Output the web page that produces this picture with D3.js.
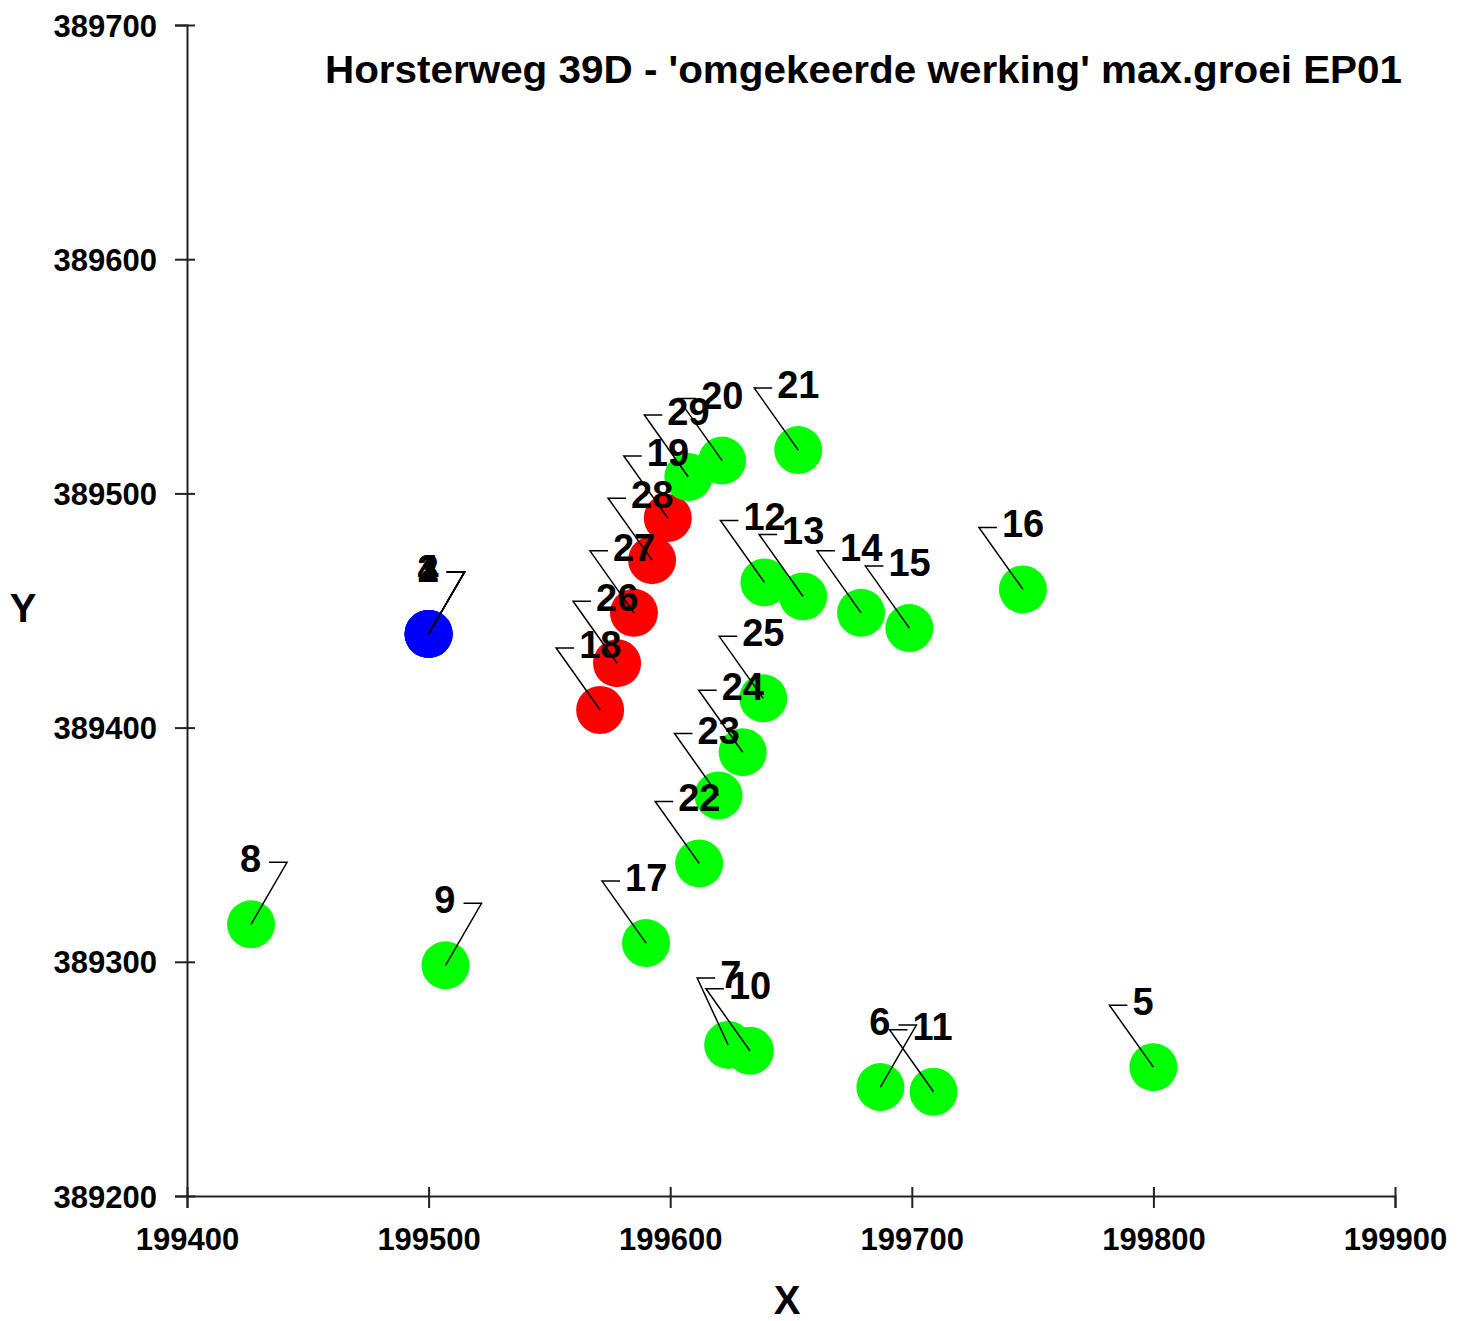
<!DOCTYPE html>
<html>
<head>
<meta charset="utf-8">
<script src="https://cdn.jsdelivr.net/npm/d3@7"></script>
<style>
  html, body { margin: 0; padding: 0; background: #fff; }
  svg { display: block; }
  text { font-family: "Liberation Sans", Arial, sans-serif; font-weight: bold; fill: #000; }
</style>
</head>
<body>
<svg id="chart" width="1469" height="1321"></svg>
<script>
// ---------------- data ----------------
const chartTitle = "Horsterweg 39D - 'omgekeerde werking' max.groei EP01";
const xAxisTitle = "X";
const yAxisTitle = "Y";

const pointIds = [1, 2, 3, 4, 5, 6, 7, 8, 9, 10, 11, 12, 13, 14, 15, 16, 17, 18, 19, 20, 21, 22, 23, 24, 25, 26, 27, 28, 29];
const xValues = [199500, 199500, 199500, 199500, 199800, 199687, 199624, 199426.5, 199507, 199633, 199709,
                 199639, 199655, 199679, 199699, 199746, 199590, 199571, 199599, 199621.5, 199653,
                 199612, 199620, 199630, 199638.5, 199578, 199585, 199592.5, 199607.5];
const yValues = [389440, 389440, 389440, 389440, 389255, 389246.5, 389264.5, 389316, 389298.5, 389262, 389244.5,
                 389462, 389456, 389449, 389442.5, 389459, 389308, 389407.5, 389489.5, 389514, 389518.5,
                 389342, 389371, 389389.5, 389412.5, 389427.5, 389449, 389471.5, 389507];
const pointGroups = ["blue", "blue", "blue", "blue", "green", "green", "green", "green", "green", "green", "green",
                     "green", "green", "green", "green", "green", "green", "red", "red", "green", "green",
                     "green", "green", "green", "green", "red", "red", "red", "green"];

const xTickValues = [199400, 199500, 199600, 199700, 199800, 199900];
const yTickValues = [389200, 389300, 389400, 389500, 389600, 389700];
const xDomain = [199400, 199900];
const yDomain = [389200, 389700];

// ---------------- layout / style ----------------
const groupColors = { blue: "#0000ff", green: "#00ff00", red: "#ff0000" };
const rightLabelIds = new Set([1, 2, 3, 4, 6, 8, 9]);   // labels placed up-right of their point
const labelOffsetOverrides = { 7: [-31, -67] };          // hand-placed labels (pixels)
const defaultLeftOffset = [-44, -62];
const defaultRightOffset = [36, -62];

const svg = d3.select("#chart");
const plot = { left: 187, right: 1395, top: 25, bottom: 1196 };

const x = d3.scaleLinear().domain(xDomain).range([plot.left, plot.right]);
const y = d3.scaleLinear().domain(yDomain).range([plot.bottom, plot.top]);
const color = d3.scaleOrdinal().domain(Object.keys(groupColors)).range(Object.values(groupColors));

// ---------------- axes ----------------
const xAxis = d3.axisBottom(x).tickValues(xTickValues).tickFormat(d3.format("d")).tickSizeOuter(0).tickSize(12).tickPadding(20);
const yAxis = d3.axisLeft(y).tickValues(yTickValues).tickFormat(d3.format("d")).tickSizeOuter(0).tickSize(12).tickPadding(18);

const gx = svg.append("g").attr("transform", `translate(0,${plot.bottom})`).call(xAxis);
gx.selectAll(".tick line").attr("y1", -9).attr("y2", 12);
const gy = svg.append("g").attr("transform", `translate(${plot.left},0)`).call(yAxis);
gy.selectAll(".tick line").attr("x1", 8).attr("x2", -12);

[gx, gy].forEach(g => {
  g.select(".domain").attr("stroke", "#222").attr("stroke-width", 2);
  g.selectAll(".tick line").attr("stroke", "#222").attr("stroke-width", 2);
  g.selectAll(".tick text")
    .attr("fill", "#111")
    .style("font-family", "'Liberation Sans', Arial, sans-serif")
    .style("font-weight", "bold")
    .style("font-size", "31px");
});
gx.selectAll(".tick text").attr("dy", "0.71em");
gy.selectAll(".tick text").attr("dy", "0.36em");

// axis titles
svg.append("text").attr("x", 787).attr("y", 1314).attr("text-anchor", "middle")
  .style("font-size", "40px").text(xAxisTitle);
svg.append("text").attr("x", 23).attr("y", 622).attr("text-anchor", "middle")
  .style("font-size", "40px").text(yAxisTitle);

// chart title
svg.append("text").attr("x", 325).attr("y", 83)
  .attr("textLength", 1077).attr("lengthAdjust", "spacingAndGlyphs")
  .style("font-size", "38px").text(chartTitle);

// ---------------- points ----------------
const points = pointIds.map((id, i) => ({ id, xv: xValues[i], yv: yValues[i], group: pointGroups[i] }));

svg.append("g").selectAll("circle").data(points).join("circle")
  .attr("cx", d => x(d.xv)).attr("cy", d => y(d.yv)).attr("r", 24)
  .attr("fill", d => color(d.group));

// leaders
const labelInfo = points.map(d => {
  const right = rightLabelIds.has(d.id);
  const off = labelOffsetOverrides[d.id] || (right ? defaultRightOffset : defaultLeftOffset);
  const cx = x(d.xv), cy = y(d.yv);
  const tx = cx + off[0], ty = cy + off[1];
  return { d, right, cx, cy, tx, ty };
});

svg.append("g").selectAll("path").data(labelInfo).join("path")
  .attr("d", l => `M${l.cx},${l.cy}L${l.tx},${l.ty}L${l.tx + (l.right ? -18 : 18)},${l.ty}`)
  .attr("fill", "none").attr("stroke", "#000").attr("stroke-width", 1.5);

svg.append("g").selectAll("text").data(labelInfo).join("text")
  .attr("x", l => l.right ? l.tx - 26 : l.tx + 23)
  .attr("y", l => l.ty + 10)
  .attr("text-anchor", l => l.right ? "end" : "start")
  .style("font-size", "38px")
  .text(l => l.d.id);
</script>
</body>
</html>
